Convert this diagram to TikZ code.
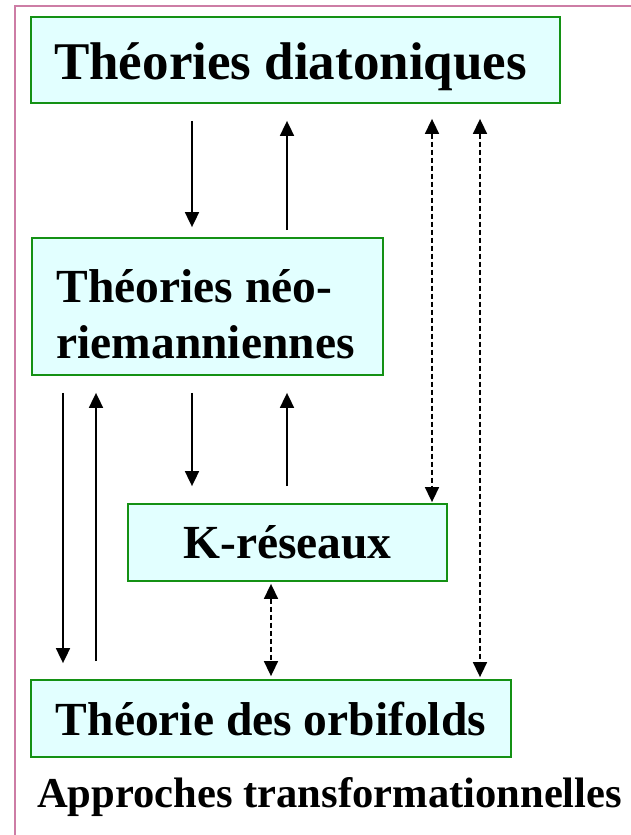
\documentclass[tikz,border=0pt]{standalone}
\usepackage{fontspec}
\setmainfont{Liberation Serif}
\usetikzlibrary{arrows.meta,calc}
\definecolor{boxgreen}{RGB}{20,145,20}
\definecolor{boxfill}{RGB}{226,255,255}
\definecolor{framepink}{RGB}{205,125,165}
\tikzset{
  box/.style={draw=boxgreen, line width=1.8pt, fill=boxfill, inner sep=0pt, font=\bfseries\fontsize{47.5}{55}\selectfont, align=left},
  arr/.style={line width=1.8pt, -{Triangle[width=14pt,length=15pt]}},
  darr/.style={line width=1.6pt, dash pattern=on 5pt off 3pt, {Triangle[width=14pt,length=15pt]}-{Triangle[width=14pt,length=15pt]}}
}
\begin{document}
\begin{tikzpicture}[x=1pt,y=-1pt]
\useasboundingbox (0,0) rectangle (630,835);
\draw[framepink, line width=1.8pt] (15,845) -- (15,6) -- (640,6);
\node[box, minimum width=529pt, minimum height=86pt, font=\bfseries\fontsize{53}{60}\selectfont] (b1) at (295.5,60) {\rule{0pt}{50pt}Théories diatoniques\hspace*{10pt}};
\node[box, minimum width=351pt, minimum height=137pt, font=\bfseries\fontsize{47.5}{56}\selectfont] (b2) at (207.5,306.5) {\rule{0pt}{48pt}Théories néo-\\riemanniennes\hspace*{4pt}};
\node[box, minimum width=319pt, minimum height=77pt] (b3) at (287.5,542.5) {K-réseaux};
\node[box, minimum width=480pt, minimum height=77pt] (b4) at (271,718.5) {Théorie des orbifolds};
\node[anchor=base west, inner sep=0pt, font=\bfseries\fontsize{42.6}{48}\selectfont] (title) at (37,807) {Approches transformationnelles};
\coordinate (xa) at (63,0);
\coordinate (xb) at (96,0);
\coordinate (xc) at (192,0);
\coordinate (xd) at (287,0);
\coordinate (xe) at (432,0);
\coordinate (xf) at (480,0);
\coordinate (xg) at (271,0);
% b1 <-> b2
\draw[arr, shorten <=17pt, shorten >=10pt] (xc |- b1.south) -- (xc |- b2.north);
\draw[arr, shorten <=7pt, shorten >=17pt] (xd |- b2.north) -- (xd |- b1.south);
% b1 <-> b3, b4 dashed
\draw[darr, shorten <=15pt, shorten >=1pt] (xe |- b1.south) -- (xe |- b3.north);
\draw[darr, shorten <=15pt, shorten >=2pt] (xf |- b1.south) -- (xf |- b4.north);
% b2 <-> b3
\draw[arr, shorten <=17pt, shorten >=17pt] (xc |- b2.south) -- (xc |- b3.north);
\draw[arr, shorten <=17pt, shorten >=17pt] (xd |- b3.north) -- (xd |- b2.south);
% b2 <-> b4
\draw[arr, shorten <=17pt, shorten >=16pt] (xa |- b2.south) -- (xa |- b4.north);
\draw[arr, shorten <=18pt, shorten >=17pt] (xb |- b4.north) -- (xb |- b2.south);
% b3 <-> b4 dashed
\draw[darr, shorten <=2pt, shorten >=3pt] (xg |- b3.south) -- (xg |- b4.north);
\end{tikzpicture}
\end{document}
